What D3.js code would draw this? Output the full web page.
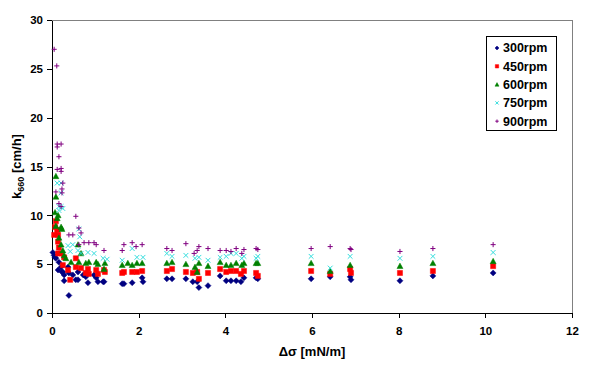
<!DOCTYPE html>
<html><head><meta charset="utf-8">
<script src="https://cdn.jsdelivr.net/npm/d3@7"></script>
<style>body{margin:0;background:#fff}svg{display:block}text{font-family:"Liberation Sans",Arial,sans-serif;font-weight:bold}</style>
</head><body>
<script>
const seriesNames = ["300rpm","450rpm","600rpm","750rpm","900rpm"];
const xTicks = [0,2,4,6,8,10,12];
const yTicks = [0,5,10,15,20,25,30];
const s300 = [[0.02,6.2],[0.05,5.9],[0.07,5.7],[0.09,5.6],[0.16,5.2],[0.14,4.4],[0.21,4.7],[0.23,4.2],[0.25,4.2],[0.28,3.9],[0.37,4.7],[0.39,4.1],[0.28,3.3],[0.39,1.8],[0.48,3.9],[0.6,4.2],[0.6,3.4],[0.55,3.4],[0.72,3.9],[0.78,3.7],[0.83,3.1],[0.97,3.9],[1.02,3.6],[1.06,3.2],[1.18,3.2],[1.2,3.2],
[1.62,3.0],[1.66,3.0],[1.85,3.1],[2.08,3.6],[2.1,3.2],[2.65,3.5],[2.77,3.5],[3.09,3.5],[3.25,3.2],[3.35,3.2],[3.39,2.6],[3.6,2.8],[3.88,3.8],[4.02,3.3],[4.13,3.3],[4.25,3.3],[4.36,3.2],[4.43,3.6],[4.71,3.6],[4.75,3.5],[5.98,3.5],[6.42,3.7],[6.88,3.7],[6.9,3.4],[8.03,3.3],[8.79,3.8],[10.18,4.1]];
const s450 = [[0.09,9.4],[0.07,8.8],[0.05,8.0],[0.12,8.5],[0.14,8.0],[0.14,7.3],[0.16,6.7],[0.21,6.1],[0.14,6.1],[0.28,5.7],[0.25,4.9],[0.37,4.4],[0.42,3.4],[0.55,5.6],[0.55,4.7],[0.67,4.6],[0.78,4.1],[0.83,4.5],[0.85,4.0],[1.02,4.4],[1.06,4.0],[1.2,4.4],[1.22,4.2],
[1.62,4.1],[1.66,4.2],[1.85,4.2],[1.96,4.2],[2.08,4.3],[2.65,4.3],[2.77,4.5],[3.09,4.2],[3.25,4.1],[3.35,4.2],[3.39,3.5],[3.6,4.1],[3.88,4.5],[4.02,4.2],[4.13,4.3],[4.25,4.3],[4.36,4.0],[4.43,4.3],[4.71,4.1],[4.75,3.8],[5.98,4.3],[6.42,4.0],[6.88,4.5],[6.9,4.1],[8.03,4.1],[8.79,4.3],[10.18,4.8]];
const s600 = [[0.09,14.0],[0.09,11.9],[0.07,10.3],[0.14,10.0],[0.12,9.7],[0.09,8.9],[0.21,8.8],[0.23,8.6],[0.16,7.7],[0.21,7.0],[0.25,6.4],[0.28,5.9],[0.32,5.6],[0.44,5.2],[0.6,7.0],[0.67,6.1],[0.62,5.2],[0.78,5.1],[0.85,5.2],[1.02,5.2],[1.06,5.0],[1.2,4.5],[1.22,5.1],
[1.62,4.9],[1.75,5.1],[1.85,4.9],[1.96,5.1],[2.08,5.1],[2.65,5.1],[2.77,5.2],[3.09,5.0],[3.3,4.7],[3.39,5.1],[3.35,4.2],[3.6,4.8],[3.88,5.2],[4.02,4.9],[4.13,4.9],[4.25,5.1],[4.38,4.9],[4.43,5.1],[4.71,5.1],[4.75,5.1],[5.98,5.1],[6.42,4.3],[6.88,4.9],[8.03,4.8],[8.79,5.1],[10.18,5.3]];
const s750 = [[0.12,13.3],[0.21,13.3],[0.21,12.3],[0.16,10.9],[0.21,10.9],[0.25,10.7],[0.16,10.5],[0.62,8.6],[0.64,7.8],[0.37,6.9],[0.48,7.0],[0.42,6.3],[0.6,6.4],[0.67,6.1],[0.83,6.2],[0.97,6.1],[1.18,5.6],[1.27,5.5],
[1.62,5.4],[1.85,6.6],[1.96,5.7],[2.1,5.7],[2.65,6.1],[2.77,5.8],[3.09,5.9],[3.3,5.6],[3.39,5.7],[3.6,5.4],[3.88,5.7],[4.02,5.8],[4.13,6.1],[4.25,6.1],[4.38,5.6],[4.43,5.8],[4.71,5.6],[4.75,5.8],[5.98,5.8],[6.42,4.6],[6.88,5.8],[8.03,5.6],[8.79,5.8],[10.18,6.2]];
const s900 = [[0.05,27.0],[0.11,25.3],[0.12,17.3],[0.21,17.3],[0.12,17.0],[0.16,16.0],[0.12,14.7],[0.21,14.8],[0.21,14.5],[0.25,13.3],[0.23,12.7],[0.09,12.4],[0.23,12.3],[0.16,11.2],[0.21,10.9],[0.55,9.9],[0.39,8.0],[0.48,8.0],[0.62,8.7],[0.67,8.2],[0.62,7.0],[0.74,7.2],[0.85,7.2],[0.97,7.2],[1.02,7.0],[1.2,6.4],
[1.62,6.4],[1.66,7.0],[1.85,7.2],[1.94,6.8],[2.08,7.0],[2.65,6.6],[2.77,6.4],[3.09,7.1],[3.28,6.1],[3.35,6.4],[3.39,6.8],[3.6,6.6],[3.88,6.4],[4.02,6.4],[4.13,6.3],[4.25,6.6],[4.38,6.1],[4.43,6.5],[4.71,6.6],[4.75,6.5],[5.98,6.6],[6.42,6.8],[6.88,6.6],[6.9,6.5],[8.03,6.3],[8.79,6.6],[10.18,7.0]];

const W = 592, H = 369;
const svg = d3.select("body").append("svg").attr("width", W).attr("height", H);
const x = d3.scaleLinear().domain([0, 12]).range([52, 572]);
const y = d3.scaleLinear().domain([0, 30]).range([313, 20]);

svg.append("path").attr("d", `M${x(0)},${y(30)}H${x(12)}V${y(0)}`).attr("fill","none").attr("stroke","#808080").attr("stroke-width",1).attr("shape-rendering","crispEdges");

const xAxis = svg.append("g").attr("transform", `translate(0,${y(0)})`)
  .call(d3.axisBottom(x).tickValues(xTicks).tickSize(5).tickPadding(9).tickSizeOuter(0));
const yAxis = svg.append("g").attr("transform", `translate(${x(0)},0)`)
  .call(d3.axisLeft(y).tickValues(yTicks).tickSize(5).tickPadding(4).tickSizeOuter(0));
[xAxis, yAxis].forEach(g => {
  g.selectAll("path,line").attr("stroke","#000").attr("shape-rendering","crispEdges");
  g.selectAll("text").attr("font-size", 11.5).attr("font-weight","bold").attr("fill","#000")
    .attr("font-family", '"Liberation Sans", Arial, sans-serif');
});

const colors = ["#000080","#FF0000","#008000","#33DDDD","#800080"];
const markers = [
  s => `M0,${-s}L${s},0L0,${s}L${-s},0Z`,
  s => `M${-s*0.85},${-s*0.85}H${s*0.85}V${s*0.85}H${-s*0.85}Z`,
  s => `M0,${-s}L${s},${s*0.8}H${-s}Z`,
  s => `M${-s*0.8},${-s*0.8}L${s*0.8},${s*0.8}M${s*0.8},${-s*0.8}L${-s*0.8},${s*0.8}`,
  s => `M${-s*0.85},0H${s*0.85}M0,${-s*0.85}V${s*0.85}`
];
const filled = [true,true,true,false,false];
const allSeries = [s300, s450, s600, s750, s900];

function drawMarker(g, i, s){
  g.append("path").attr("d", markers[i](s))
    .attr("fill", filled[i] ? colors[i] : "none")
    .attr("stroke", colors[i]).attr("stroke-width", filled[i] ? 0.5 : 1);
}

allSeries.forEach((data, i) => {
  const g = svg.append("g");
  g.selectAll("g").data(data).join("g")
    .attr("transform", d => `translate(${x(d[0])},${y(d[1])})`)
    .each(function(){ drawMarker(d3.select(this), i, 3); });
});

const lg = svg.append("g");
lg.append("rect").attr("x", 486.5).attr("y", 36.5).attr("width", 70).attr("height", 94)
  .attr("fill","#fff").attr("stroke","#000").attr("stroke-width",1);
seriesNames.forEach((n, i) => {
  const yy = 48 + i * 18.3;
  const m = lg.append("g").attr("transform", `translate(497,${yy})`);
  drawMarker(m, i, 2);
  lg.append("text").attr("x", 503).attr("y", yy).attr("dy","0.35em")
    .attr("font-size", 12.5).text(n);
});

svg.append("text").attr("x", (x(0)+x(12))/2).attr("y", 356).attr("text-anchor","middle")
  .attr("font-size", 13).text("Δσ [mN/m]");
const yt = svg.append("text").attr("transform", `translate(21,${(y(0)+y(30))/2}) rotate(-90)`)
  .attr("text-anchor","middle").attr("font-size", 13);
yt.append("tspan").text("k");
yt.append("tspan").attr("font-size", 9).attr("dy", 3).text("660");
yt.append("tspan").attr("dy", -3).text(" [cm/h]");
</script>
</body></html>
